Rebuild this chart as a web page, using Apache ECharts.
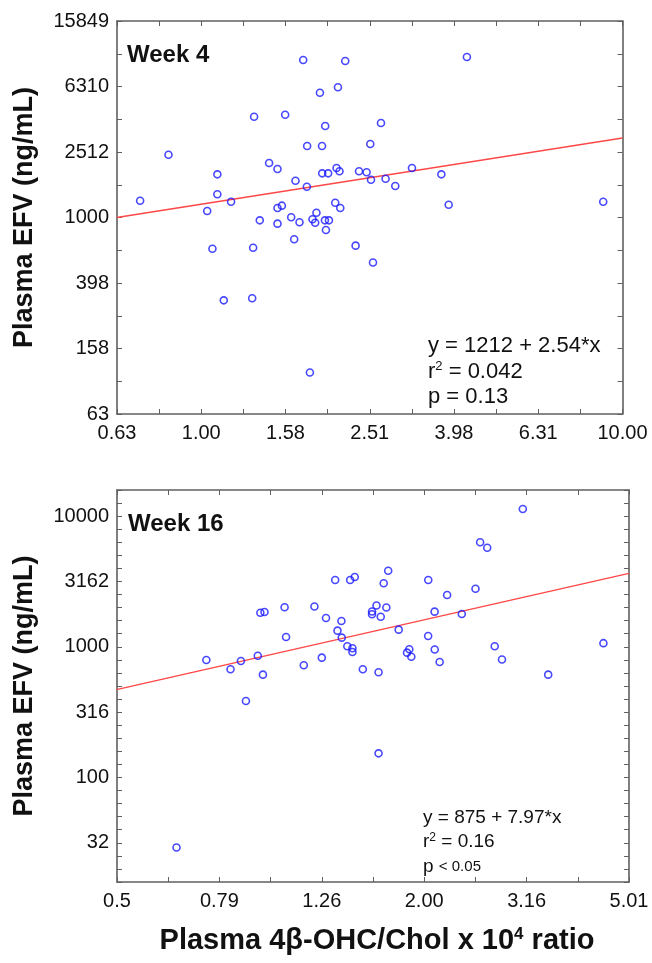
<!DOCTYPE html>
<html><head><meta charset="utf-8">
<script src="https://cdn.jsdelivr.net/npm/echarts@6/dist/echarts.min.js"></script>
<style>html,body{margin:0;padding:0;background:#fff}#c{width:652px;height:963px}</style>
</head><body><div id="c"></div>
<script>
// ---- data ----
const week4X = [0.716,0.836,1.033,1.063,1.092,1.092,1.131,1.177,1.321,1.328,1.335,1.377,1.449,1.517,1.517,1.517,1.554,1.582,1.635,1.662,1.674,1.711,1.746,1.781,1.784,1.811,1.837,1.864,1.877,1.913,1.935,1.937,1.966,1.969,1.977,2.001,2.010,2.080,2.095,2.111,2.129,2.138,2.197,2.325,2.369,2.469,2.519,2.529,2.557,2.671,2.739,2.888,3.164,3.715,3.867,4.272,9.00];
const week4Y = [1266,2418,1096,645,1835,1386,312,1249,321,654,4126,961,2151,1978,1143,917,1181,4244,1003,736,1677,935,9160,1542,2733,113,975,929,1070,5782,2733,1861,961,3622,839,1861,961,1231,2006,6240,1915,1143,9030,673,1915,1888,2811,1701,531,3777,1726,1557,2006,1835,1197,9555,1249];
const week16X = [0.655,0.749,0.835,0.875,0.895,0.944,0.955,0.973,0.966,1.065,1.072,1.161,1.218,1.259,1.283,1.337,1.351,1.375,1.377,1.412,1.430,1.445,1.445,1.460,1.514,1.578,1.578,1.610,1.625,1.625,1.641,1.663,1.683,1.697,1.779,1.847,1.866,1.883,2.032,2.031,2.091,2.092,2.139,2.212,2.363,2.513,2.566,2.649,2.740,2.831,3.109,3.485,4.467];
const week16Y = [29.1,793,673,779,385,855,1821,1848,612,2007,1189,722,2036,826,1662,3247,1329,1576,1175,1010,3247,975,913,3424,673,1864,1774,2071,639,153,1697,3063,2000,3824,1353,902,958,839,3247,1210,1858,954,766,2492,1784,2785,6306,5735,1010,800,11340,612,1066];
const fit4X = [0.63, 10.0];
const fit4Y = [1000, 3060];
const fit16X = [0.5, 5.01];
const fit16Y = [470, 3650];
const week4XTicks = ['0.63','1.00','1.58','2.51','3.98','6.31','10.00'];
const week4YTicks = ['63','158','398','1000','2512','6310','15849'];
const week16XTicks = ['0.5','0.79','1.26','2.00','3.16','5.01'];
const week16YTicks = ['32','100','316','1000','3162','10000'];

// ---- chart ----
const FONT = "'Liberation Sans', Arial, sans-serif";
const AX = '#606060';
const lg = Math.log10;
function fmt(labels){
  return function(v){
    const m = labels.find(l => Math.abs(lg(parseFloat(l)) - v) < 0.01);
    return m || '';
  };
}
function axis(kind, grid, pos, min, max, interval, labels){
  const a = {
    type:'value', gridIndex:grid, position:pos, min:min, max:max, interval:interval,
    axisLine:{show:true, onZero:false, lineStyle:{color:AX, width:1.6}},
    axisTick:{show:true, inside:true, length:5, lineStyle:{color:AX, width:1}},
    splitLine:{show:false},
    axisLabel:{show:!!labels, color:'#111', fontFamily:FONT, fontSize:20,
      margin: kind==='x'?9:8, showMinLabel:true, showMaxLabel:true,
      formatter: labels?fmt(labels):undefined}
  };
  return a;
}
const toPts = (X,Y) => X.map((x,i)=>[lg(x), lg(Y[i])]);
const chart = echarts.init(document.getElementById('c'), null, {renderer:'canvas'});
const scatterStyle = {color:'rgba(0,0,0,0)', borderColor:'#1a1aff', borderWidth:1.6};
const txt = (x,y,text,font,extra) => Object.assign({type:'text', x:x, y:y, silent:true,
  style:Object.assign({text:text, font:font, fill:'#111', textAlign:'left', textVerticalAlign:'middle'}, extra||{})});
function sup(x,y,pre,s,post,size,supSize){
  return {type:'text', x:x, y:y, silent:true, style:{
    text:'{a|'+pre+'}{b|'+s+'}{a|'+post+'}', fill:'#111', textAlign:'left', textVerticalAlign:'middle',
    rich:{a:{fontFamily:FONT, fontSize:size, lineHeight:size+2},
          b:{fontFamily:FONT, fontSize:supSize, lineHeight:supSize, verticalAlign:'top'}}}};
}
const option = {
  animation:false,
  backgroundColor:'#fff',
  grid:[{left:117, top:21, width:505.5, height:393},
        {left:117, top:490, width:512, height:392}],
  xAxis:[axis('x',0,'bottom',-0.2,1.0,0.1,week4XTicks), axis('x',0,'top',-0.2,1.0,0.1,null),
         axis('x',1,'bottom',-0.3,0.7,0.1,week16XTicks), axis('x',1,'top',-0.3,0.7,0.1,null)],
  yAxis:[axis('y',0,'left',1.8,4.2,0.2,week4YTicks), axis('y',0,'right',1.8,4.2,0.2,null),
         axis('y',1,'left',1.2,4.2,0.1,week16YTicks), axis('y',1,'right',1.2,4.2,0.1,null)],
  series:[
    {type:'line', xAxisIndex:0, yAxisIndex:0, data:toPts(fit4X,fit4Y), symbol:'none', silent:true,
     lineStyle:{color:'#ff4747', width:1.4}, z:1},
    {type:'scatter', xAxisIndex:0, yAxisIndex:0, data:toPts(week4X,week4Y), symbol:'circle', symbolSize:7,
     itemStyle:scatterStyle, z:2},
    {type:'line', xAxisIndex:2, yAxisIndex:2, data:toPts(fit16X,fit16Y), symbol:'none', silent:true,
     lineStyle:{color:'#ff4747', width:1.4}, z:1},
    {type:'scatter', xAxisIndex:2, yAxisIndex:2, data:toPts(week16X,week16Y), symbol:'circle', symbolSize:7,
     itemStyle:scatterStyle, z:2}
  ],
  graphic:[
    txt(127,55,'Week 4','bold 24px '+FONT),
    txt(128,524,'Week 16','bold 24px '+FONT),
    txt(428,346,'y = 1212 + 2.54*x','22px '+FONT),
    sup(428,372,'r','2',' = 0.042',22,13),
    txt(428,397,'p = 0.13','22px '+FONT),
    txt(423,818,'y = 875 + 7.97*x','19px '+FONT),
    sup(423,842,'r','2',' = 0.16',19,12),
    {type:'text', x:423, y:867, silent:true, style:{text:'{a|p }{b|< 0.05}', fill:'#111', textAlign:'left', textVerticalAlign:'middle',
      rich:{a:{fontFamily:FONT, fontSize:19}, b:{fontFamily:FONT, fontSize:15}}}},
    Object.assign(txt(25,217.5,'Plasma EFV (ng/mL)','bold 27px '+FONT,{textAlign:'center'}),{rotation:Math.PI/2}),
    Object.assign(txt(25,686,'Plasma EFV (ng/mL)','bold 27px '+FONT,{textAlign:'center'}),{rotation:Math.PI/2}),
    {type:'text', x:377, y:941, silent:true, style:{text:'{a|Plasma 4β-OHC/Chol x 10}{b|4}{a| ratio}', fill:'#111',
      textAlign:'center', textVerticalAlign:'middle',
      rich:{a:{fontFamily:FONT, fontWeight:'bold', fontSize:29, lineHeight:31},
            b:{fontFamily:FONT, fontWeight:'bold', fontSize:17, lineHeight:19, verticalAlign:'top'}}}}
  ]
};
chart.setOption(option);
</script>
</body></html>
